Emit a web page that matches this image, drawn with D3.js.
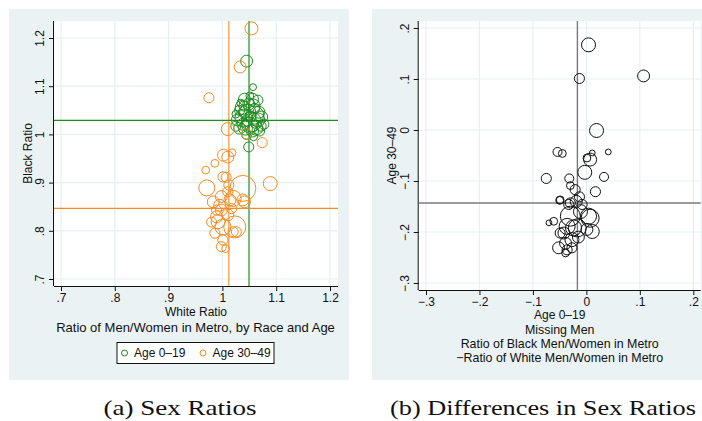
<!DOCTYPE html>
<html>
<head>
<meta charset="utf-8">
<script src="https://cdn.jsdelivr.net/npm/d3@7"></script>
<style>
  html, body { margin: 0; padding: 0; background: #ffffff; }
  svg { display: block; }
</style>
</head>
<body>
<svg id="chart" width="702" height="421"></svg>
<script>
// ---- Metro-level sex ratios (men / women), marker size = metro population weight ----

// Age 0–19: white ratio, black ratio, weight
const youngWhite = [1.045, 1.057, 1.041, 1.056, 1.037, 1.057, 1.072, 1.032, 1.045, 1.049,
                    1.047, 1.060, 1.040, 1.054, 1.066, 1.028, 1.051, 1.043, 1.062, 1.073,
                    1.049, 1.032, 1.060, 1.025, 1.077, 1.038, 1.053, 1.045, 1.056, 1.068,
                    1.041, 1.051, 1.066, 1.034, 1.025, 1.069, 1.058, 1.049, 1.060, 1.040];
const youngBlack = [1.152, 1.098, 1.073, 1.073, 1.056, 1.059, 1.017, 1.013, 1.000, 0.974,
                    1.046, 1.040, 1.034, 1.026, 1.030, 1.030, 1.019, 1.013, 1.013, 1.036,
                    1.063, 1.050, 1.054, 1.042, 1.021, 1.021, 1.038, 1.028, 1.007, 1.046,
                    1.046, 1.080, 1.071, 1.065, 1.017, 1.007, 0.995, 1.034, 1.021, 1.059];
const youngPop   = [21, 7, 21, 21, 29, 29, 15, 21, 15, 15,
                    38, 48, 48, 59, 29, 21, 38, 29, 29, 21,
                    21, 15, 15, 9, 15, 21, 15, 15, 21, 21,
                    21, 9, 15, 9, 15, 15, 9, 9, 9, 15];

// Age 30–49: white ratio, black ratio, weight
const primeWhite = [1.054, 1.033, 0.975, 1.010, 1.074, 1.045, 1.018, 1.002, 1.010, 0.986,
                    0.969, 0.971, 1.038, 1.089, 1.001, 1.007, 1.012, 0.998, 1.014, 1.038,
                    0.983, 0.995, 1.020, 1.041, 0.989, 0.992, 1.001, 1.023, 1.020, 1.026,
                    0.986, 1.001, 0.998, 1.006, 0.989, 0.998, 1.017, 1.010, 0.980, 1.010];
const primeBlack = [1.220, 1.140, 1.076, 1.011, 0.983, 1.001, 0.962, 0.957, 0.953, 0.940,
                    0.926, 0.889, 0.888, 0.898, 0.912, 0.911, 0.895, 0.871, 0.864, 0.864,
                    0.860, 0.853, 0.867, 0.860, 0.829, 0.819, 0.808, 0.808, 0.798, 0.798,
                    0.795, 0.781, 0.767, 0.763, 0.843, 0.843, 0.846, 0.881, 0.818, 0.833];
const primePop   = [25, 21, 15, 25, 15, 15, 9, 21, 21, 9,
                    9, 38, 100, 29, 15, 15, 15, 21, 21, 21,
                    21, 21, 38, 21, 21, 29, 38, 72, 15, 15,
                    15, 15, 15, 9, 15, 21, 15, 15, 15, 21];

// Black minus white sex ratio, by age group
const gapYoung = [0.004, -0.013, 0.107, 0.019, -0.054, -0.045, 0.011, 0.041, 0.001, 0.007,
                  -0.003, -0.075, -0.032, 0.033, -0.030, 0.017, -0.021, -0.013, -0.050, -0.019,
                  -0.033, -0.008, -0.030, 0.007, -0.024, -0.042, -0.061, -0.070, -0.052, -0.036,
                  -0.027, 0.001, 0.011, -0.036, -0.017, -0.039, -0.039, -0.027, -0.049, 0.004,
                  -0.030, -0.049, -0.011, -0.015];
const gapPrime = [0.167, 0.101, 0.106, -0.001, -0.043, -0.046, -0.045, -0.043, -0.055, -0.058,
                  -0.083, -0.095, -0.095, -0.092, -0.109, -0.121, -0.117, -0.131, -0.138, -0.140,
                  -0.146, -0.146, -0.169, -0.173, -0.192, -0.202, -0.179, -0.182, -0.231, -0.235,
                  -0.215, -0.195, -0.199, -0.189, -0.192, -0.222, -0.241, -0.231, -0.202, -0.169,
                  -0.143, -0.137, -0.160, -0.210];
const gapPop   = [29, 15, 21, 29, 12, 9, 5, 5, 9, 25,
                  29, 15, 12, 12, 9, 15, 15, 15, 9, 21,
                  15, 15, 59, 48, 38, 21, 9, 5, 21, 15,
                  29, 21, 29, 38, 48, 21, 9, 15, 15, 38,
                  15, 9, 29, 21];

// Weighted means drawn as reference lines
const youngMeanWhite = 1.0495, youngMeanBlack = 1.029;
const primeMeanWhite = 1.012,  primeMeanBlack = 0.8465;
const gapMeanYoung = -0.0168,  gapMeanPrime = -0.143;

// Axis ticks and labels
const ratioTicks  = [0.7, 0.8, 0.9, 1.0, 1.1, 1.2];
const ratioLabels = [".7", ".8", ".9", "1", "1.1", "1.2"];
const gapTicks    = [-0.3, -0.2, -0.1, 0, 0.1, 0.2];
const gapLabels   = ["\u2212.3", "\u2212.2", "\u2212.1", "0", ".1", ".2"];

const GREEN = "#1e8b1e", GREEN_LINE = "#76bb76", ORANGE = "#fa8a1f", DARK = "#111111";
const REGION = "#eaf2f3", GRID = "#e6eff1";
const SANS = "'Liberation Sans', Arial, Helvetica, sans-serif";
const SERIF = "'Liberation Serif', 'Times New Roman', serif";

const svg = d3.select("#chart");
const rScale = d3.scaleSqrt().domain([0, 100]).range([0, 13]);

function panel(cfg) {
  const g = svg.append("g");
  // graph region
  g.append("rect").attr("x", cfg.region[0]).attr("y", cfg.region[1])
    .attr("width", cfg.region[2]).attr("height", cfg.region[3]).attr("fill", REGION);
  // plot region
  const [px0, py0, px1, py1] = cfg.plot;
  g.append("rect").attr("x", px0).attr("y", py0).attr("width", px1 - px0).attr("height", py1 - py0)
    .attr("fill", "#ffffff");

  const x = cfg.x, y = cfg.y;
  // grid
  g.selectAll(".gx").data(cfg.xTicks).enter().append("line")
    .attr("x1", d => x(d)).attr("x2", d => x(d)).attr("y1", py0).attr("y2", py1)
    .attr("stroke", GRID).attr("stroke-width", 1.2);
  g.selectAll(".gy").data(cfg.yTicks).enter().append("line")
    .attr("y1", d => y(d)).attr("y2", d => y(d)).attr("x1", px0).attr("x2", px1)
    .attr("stroke", GRID).attr("stroke-width", 1.2);

  // axes
  const xAxis = d3.axisBottom(x).tickValues(cfg.xTicks)
    .tickFormat((d, i) => cfg.xLabels[i]).tickSize(5).tickSizeOuter(0);
  const yAxis = d3.axisLeft(y).tickValues(cfg.yTicks)
    .tickFormat((d, i) => cfg.yLabels[i]).tickSize(5).tickSizeOuter(0);

  const gx = g.append("g").attr("transform", `translate(0,${py1})`).call(xAxis);
  gx.select(".domain").attr("d", `M${px0},0.5H${px1}`).attr("stroke", DARK);
  gx.selectAll(".tick line").attr("stroke", DARK);
  gx.selectAll(".tick text").attr("font-family", SANS).attr("font-size", 12)
    .attr("fill", DARK).attr("y", 7).attr("dy", "0.71em");

  const gy = g.append("g").attr("transform", `translate(${px0},0)`).call(yAxis);
  gy.select(".domain").attr("d", `M-0.5,${py0}V${py1}`).attr("stroke", DARK);
  gy.selectAll(".tick line").attr("stroke", DARK);
  gy.selectAll(".tick text").attr("font-family", SANS).attr("font-size", 12)
    .attr("fill", DARK).attr("text-anchor", "middle")
    .attr("transform", "rotate(-90)").attr("x", 0).attr("y", -10).attr("dy", 0);

  // axis titles
  g.append("text").attr("x", (px0 + px1) / 2).attr("y", cfg.xTitleY)
    .attr("text-anchor", "middle").attr("dominant-baseline", "central")
    .attr("font-family", SANS).attr("font-size", 12).attr("fill", DARK).text(cfg.xTitle);
  g.append("text")
    .attr("transform", `translate(${cfg.yTitleX},${(py0 + py1) / 2}) rotate(-90)`)
    .attr("text-anchor", "middle").attr("dominant-baseline", "central")
    .attr("font-family", SANS).attr("font-size", 12).attr("fill", DARK).text(cfg.yTitle);

  return g;
}

// ---------------- (a) Sex ratios ----------------
const xa = d3.scaleLinear().domain([0.7, 1.2]).range([61, 330]);
const ya = d3.scaleLinear().domain([0.7, 1.2]).range([279, 38]);
const ga = panel({
  region: [9, 9, 340, 371], plot: [54, 21, 338, 286], x: xa, y: ya,
  xTicks: ratioTicks, yTicks: ratioTicks, xLabels: ratioLabels, yLabels: ratioLabels,
  xTitle: "White Ratio", yTitle: "Black Ratio", xTitleY: 311.5, yTitleX: 27.5
});

// mean lines
ga.append("line").attr("x1", 54).attr("x2", 338)
  .attr("y1", ya(primeMeanBlack)).attr("y2", ya(primeMeanBlack)).attr("stroke", ORANGE).attr("stroke-width", 1.1);
ga.append("line").attr("y1", 21).attr("y2", 286)
  .attr("x1", xa(primeMeanWhite)).attr("x2", xa(primeMeanWhite)).attr("stroke", ORANGE).attr("stroke-width", 1.1);
ga.append("line").attr("x1", 54).attr("x2", 338)
  .attr("y1", ya(youngMeanBlack)).attr("y2", ya(youngMeanBlack)).attr("stroke", GREEN).attr("stroke-width", 1.1);
ga.append("line").attr("y1", 21).attr("y2", 286)
  .attr("x1", xa(youngMeanWhite)).attr("x2", xa(youngMeanWhite)).attr("stroke", GREEN_LINE).attr("stroke-width", 2);

const youngPts = youngWhite.map((w, i) => ({ w, b: youngBlack[i], p: youngPop[i] }));
const primePts = primeWhite.map((w, i) => ({ w, b: primeBlack[i], p: primePop[i] }));

ga.append("g").selectAll("circle").data(youngPts).enter().append("circle")
  .attr("cx", d => xa(d.w)).attr("cy", d => ya(d.b)).attr("r", d => rScale(d.p))
  .attr("fill", "none").attr("stroke", GREEN).attr("stroke-width", 1);
ga.append("g").selectAll("circle").data(primePts).enter().append("circle")
  .attr("cx", d => xa(d.w)).attr("cy", d => ya(d.b)).attr("r", d => rScale(d.p))
  .attr("fill", "none").attr("stroke", ORANGE).attr("stroke-width", 1);

// title
ga.append("text").attr("x", 195.5).attr("y", 327).attr("text-anchor", "middle")
  .attr("dominant-baseline", "central").attr("font-family", SANS).attr("font-size", 13)
  .attr("fill", DARK).text("Ratio of Men/Women in Metro, by Race and Age");

// legend
const leg = ga.append("g");
leg.append("rect").attr("x", 117).attr("y", 342.5).attr("width", 157).attr("height", 21)
  .attr("fill", "#ffffff").attr("stroke", DARK).attr("stroke-width", 1);
const legendItems = [
  { label: "Age 0\u201319", color: GREEN, mx: 124.5, tx: 134 },
  { label: "Age 30\u201349", color: ORANGE, mx: 203, tx: 212.5 }
];
legendItems.forEach(it => {
  leg.append("circle").attr("cx", it.mx).attr("cy", 353).attr("r", 3)
    .attr("fill", "none").attr("stroke", it.color).attr("stroke-width", 1);
  leg.append("text").attr("x", it.tx).attr("y", 353).attr("dominant-baseline", "central")
    .attr("font-family", SANS).attr("font-size", 12).attr("fill", DARK).text(it.label);
});

// ---------------- (b) Differences in sex ratios ----------------
const xb = d3.scaleLinear().domain([-0.3, 0.2]).range([426, 693.3]);
const yb = d3.scaleLinear().domain([-0.3, 0.2]).range([283, 28]);
const gb = panel({
  region: [372, 9, 330, 371], plot: [418.7, 21, 700.7, 290], x: xb, y: yb,
  xTicks: gapTicks, yTicks: gapTicks, xLabels: gapLabels, yLabels: gapLabels,
  xTitle: "Age 0\u201319", yTitle: "Age 30\u201349", xTitleY: 315, yTitleX: 392
});

gb.append("line").attr("x1", 418.7).attr("x2", 700.7)
  .attr("y1", yb(gapMeanPrime)).attr("y2", yb(gapMeanPrime)).attr("stroke", "#7a7a7a").attr("stroke-width", 1.4);
gb.append("line").attr("y1", 21).attr("y2", 290)
  .attr("x1", xb(gapMeanYoung)).attr("x2", xb(gapMeanYoung)).attr("stroke", "#7a7a7a").attr("stroke-width", 1.4);

const gapPts = gapYoung.map((a, i) => ({ a, b: gapPrime[i], p: gapPop[i] }));
gb.append("g").selectAll("circle").data(gapPts).enter().append("circle")
  .attr("cx", d => xb(d.a)).attr("cy", d => yb(d.b)).attr("r", d => rScale(d.p))
  .attr("fill", "none").attr("stroke", DARK).attr("stroke-width", 1);

const noteLines = ["Missing Men", "Ratio of Black Men/Women in Metro", "\u2212Ratio of White Men/Women in Metro"];
const noteY = [330.3, 344, 357.7];
noteLines.forEach((t, i) => {
  gb.append("text").attr("x", 559.7).attr("y", noteY[i]).attr("text-anchor", "middle")
    .attr("dominant-baseline", "central").attr("font-family", SANS).attr("font-size", 12.4)
    .attr("fill", DARK).text(t);
});

// ---------------- captions ----------------
const captions = [
  { text: "(a) Sex Ratios", x: 180, w: 153 },
  { text: "(b) Differences in Sex Ratios", x: 543, w: 306 }
];
captions.forEach(c => {
  svg.append("text").attr("x", c.x).attr("y", 415).attr("text-anchor", "middle")
    .attr("font-family", SERIF).attr("font-size", 22).attr("fill", "#111")
    .attr("textLength", c.w).attr("lengthAdjust", "spacingAndGlyphs").text(c.text);
});
</script>
</body>
</html>
